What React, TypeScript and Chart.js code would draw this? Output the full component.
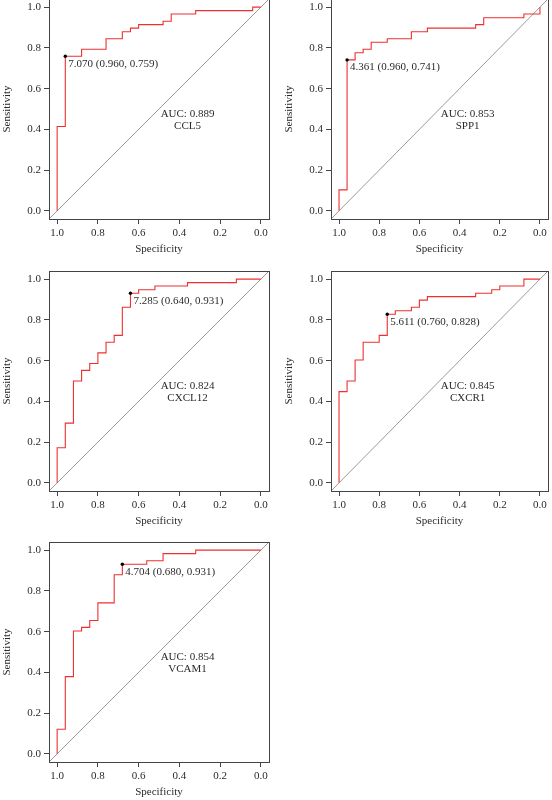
import React, { useEffect, useRef } from "react";
import { Chart, registerables } from "chart.js";

Chart.register(...registerables);

// ---------- data ----------
const tickValues = [0.0, 0.2, 0.4, 0.6, 0.8, 1.0];
const axisMin = -0.04;
const axisMax = 1.04;

// chance diagonal (sensitivity = 1 - specificity), spanning the whole plot region
const diagSpec = [1.04, -0.04];
const diagSens = [-0.04, 1.04];

const ccl5Spec = [1.0, 1.0, 0.96, 0.96, 0.88, 0.88, 0.76, 0.76, 0.68, 0.68, 0.64, 0.64, 0.6, 0.6, 0.48, 0.48, 0.44, 0.44, 0.32, 0.32, 0.04, 0.04, 0.0];
const ccl5Sens = [0.0, 0.414, 0.414, 0.759, 0.759, 0.793, 0.793, 0.845, 0.845, 0.879, 0.879, 0.897, 0.897, 0.914, 0.914, 0.931, 0.931, 0.966, 0.966, 0.983, 0.983, 1.0, 1.0];

const spp1Spec = [1.0, 1.0, 0.96, 0.96, 0.92, 0.92, 0.88, 0.88, 0.84, 0.84, 0.76, 0.76, 0.64, 0.64, 0.56, 0.56, 0.32, 0.32, 0.28, 0.28, 0.08, 0.08, 0.0, 0.0];
const spp1Sens = [0.0, 0.103, 0.103, 0.741, 0.741, 0.776, 0.776, 0.793, 0.793, 0.828, 0.828, 0.845, 0.845, 0.879, 0.879, 0.897, 0.897, 0.914, 0.914, 0.948, 0.948, 0.966, 0.966, 1.0];

const cxcl12Spec = [1.0, 1.0, 0.96, 0.96, 0.92, 0.92, 0.88, 0.88, 0.84, 0.84, 0.8, 0.8, 0.76, 0.76, 0.72, 0.72, 0.68, 0.68, 0.64, 0.64, 0.6, 0.6, 0.52, 0.52, 0.36, 0.36, 0.12, 0.12, 0.0];
const cxcl12Sens = [0.0, 0.172, 0.172, 0.293, 0.293, 0.5, 0.5, 0.552, 0.552, 0.586, 0.586, 0.638, 0.638, 0.69, 0.69, 0.724, 0.724, 0.862, 0.862, 0.931, 0.931, 0.948, 0.948, 0.966, 0.966, 0.983, 0.983, 1.0, 1.0];

const cxcr1Spec = [1.0, 1.0, 0.96, 0.96, 0.92, 0.92, 0.88, 0.88, 0.8, 0.8, 0.76, 0.76, 0.72, 0.72, 0.64, 0.64, 0.6, 0.6, 0.56, 0.56, 0.32, 0.32, 0.24, 0.24, 0.2, 0.2, 0.08, 0.08, 0.0];
const cxcr1Sens = [0.0, 0.448, 0.448, 0.5, 0.5, 0.603, 0.603, 0.69, 0.69, 0.724, 0.724, 0.828, 0.828, 0.845, 0.845, 0.862, 0.862, 0.897, 0.897, 0.914, 0.914, 0.931, 0.931, 0.948, 0.948, 0.966, 0.966, 1.0, 1.0];

const vcam1Spec = [1.0, 1.0, 0.96, 0.96, 0.92, 0.92, 0.88, 0.88, 0.84, 0.84, 0.8, 0.8, 0.72, 0.72, 0.68, 0.68, 0.56, 0.56, 0.48, 0.48, 0.32, 0.32, 0.0];
const vcam1Sens = [0.0, 0.121, 0.121, 0.379, 0.379, 0.603, 0.603, 0.621, 0.621, 0.655, 0.655, 0.741, 0.741, 0.879, 0.879, 0.931, 0.931, 0.948, 0.948, 0.983, 0.983, 1.0, 1.0];

const geneNames = ["CCL5", "SPP1", "CXCL12", "CXCR1", "VCAM1"];
const aucValues = ["0.889", "0.853", "0.824", "0.845", "0.854"];
const cutoffLabels = ["7.070", "4.361", "7.285", "5.611", "4.704"];
const cutoffSpec = [0.96, 0.96, 0.64, 0.76, 0.68];
const cutoffSens = [0.759, 0.741, 0.931, 0.828, 0.931];

const rocSpec = [ccl5Spec, spp1Spec, cxcl12Spec, cxcr1Spec, vcam1Spec];
const rocSens = [ccl5Sens, spp1Sens, cxcl12Sens, cxcr1Sens, vcam1Sens];

// ---------- styling / layout ----------
const FONT = '"Liberation Serif", "DejaVu Serif", serif';
const FONT_SIZE = 11;
const TEXT = "#2b2b2b";
const AXIS = "#444444";
const RED = "#ee3030";
const DIAG = "#9a9a9a";

const BOX = 220;
const TOP_PAD = 10;
const Y_AXIS_W = 49;
const X_AXIS_H = 40;
const PAGE_W = 552;

const boxLefts = [49, 331, 49, 331, 49];
const boxTops = [-1, -1, 271, 271, 542];

const AUC_TEXT_X = 0.36;
const AUC_TEXT_Y1 = 0.475;
const AUC_TEXT_Y2 = 0.415;

function RocPanel({ index }: { index: number }) {
  const ref = useRef<HTMLCanvasElement | null>(null);
  const canvasLeft = boxLefts[index] - Y_AXIS_W;
  const canvasTop = boxTops[index] - TOP_PAD;
  const width = Math.min(Y_AXIS_W + BOX + 7, PAGE_W - canvasLeft);
  const height = TOP_PAD + BOX + X_AXIS_H;
  const rightPad = width - Y_AXIS_W - BOX;

  useEffect(() => {
    if (!ref.current) return;
    const spec = rocSpec[index];
    const sens = rocSens[index];

    const panelPlugin = {
      id: "panelDecor" + index,
      afterDraw(chart: any) {
        const { ctx, chartArea: a } = chart;
        const xs = chart.scales.x;
        const ys = chart.scales.y;
        ctx.save();
        ctx.strokeStyle = AXIS;
        ctx.lineWidth = 1;
        ctx.strokeRect(a.left + 0.5, a.top + 0.5, a.right - a.left, a.bottom - a.top);

        ctx.fillStyle = TEXT;
        ctx.font = `${FONT_SIZE}px ${FONT}`;
        // threshold label
        const px = xs.getPixelForValue(cutoffSpec[index]);
        const py = ys.getPixelForValue(cutoffSens[index]);
        ctx.textAlign = "left";
        ctx.textBaseline = "middle";
        ctx.fillText(
          `${cutoffLabels[index]} (${cutoffSpec[index].toFixed(3)}, ${cutoffSens[index].toFixed(3)})`,
          px + 3,
          py + 7.5
        );
        // AUC + gene name
        ctx.textAlign = "center";
        const cx = xs.getPixelForValue(AUC_TEXT_X);
        ctx.fillText(`AUC: ${aucValues[index]}`, cx, ys.getPixelForValue(AUC_TEXT_Y1));
        ctx.fillText(geneNames[index], cx, ys.getPixelForValue(AUC_TEXT_Y2));
        ctx.restore();
      },
    };

    const tickFont = { family: FONT, size: FONT_SIZE };

    const chart = new Chart(ref.current, {
      type: "scatter",
      data: {
        datasets: [
          {
            data: [{ x: cutoffSpec[index], y: cutoffSens[index] }],
            pointRadius: 1.7,
            pointBackgroundColor: "#000000",
            pointBorderColor: "#000000",
            pointBorderWidth: 0,
            showLine: false,
          },
          {
            data: spec.map((s, k) => ({ x: s, y: sens[k] })),
            showLine: true,
            borderColor: RED,
            borderWidth: 1.1,
            pointRadius: 0,
            fill: false,
            tension: 0,
          },
          {
            data: diagSpec.map((s, k) => ({ x: s, y: diagSens[k] })),
            showLine: true,
            borderColor: DIAG,
            borderWidth: 1,
            pointRadius: 0,
            fill: false,
          },
        ],
      } as any,
      options: {
        responsive: false,
        animation: false,
        devicePixelRatio: 1,
        events: [],
        layout: { padding: { top: TOP_PAD, left: 0, right: rightPad, bottom: 0 } },
        plugins: { legend: { display: false }, tooltip: { enabled: false } },
        scales: {
          x: {
            type: "linear",
            reverse: true,
            min: axisMin,
            max: axisMax,
            afterBuildTicks: (s: any) => {
              s.ticks = tickValues.map((v) => ({ value: v }));
            },
            afterFit: (s: any) => {
              s.height = X_AXIS_H;
            },
            ticks: {
              callback: (v: any) => Number(v).toFixed(1),
              padding: 3,
              color: TEXT,
              font: tickFont,
              maxRotation: 0,
              autoSkip: false,
            },
            grid: { drawOnChartArea: false, drawTicks: true, tickLength: 5, tickColor: AXIS, tickWidth: 1 },
            border: { display: false },
            title: { display: true, text: "Specificity", color: TEXT, font: tickFont, padding: { top: 0, bottom: 3.5 } },
          },
          y: {
            type: "linear",
            min: axisMin,
            max: axisMax,
            afterBuildTicks: (s: any) => {
              s.ticks = tickValues.map((v) => ({ value: v }));
            },
            afterFit: (s: any) => {
              s.width = Y_AXIS_W;
            },
            ticks: {
              callback: (v: any) => Number(v).toFixed(1),
              padding: 3,
              color: TEXT,
              font: tickFont,
              autoSkip: false,
            },
            grid: { drawOnChartArea: false, drawTicks: true, tickLength: 5, tickColor: AXIS, tickWidth: 1 },
            border: { display: false },
            title: { display: true, text: "Sensitivity", color: TEXT, font: tickFont, padding: { top: 0.5, bottom: 0 } },
          },
        },
      } as any,
      plugins: [panelPlugin],
    });
    return () => chart.destroy();
  }, [index]);

  return (
    <canvas
      ref={ref}
      width={width}
      height={height}
      style={{ position: "absolute", left: canvasLeft, top: canvasTop, width, height }}
    />
  );
}

export default function App() {
  return (
    <div
      style={{
        position: "absolute",
        left: 0,
        top: 0,
        width: 552,
        height: 800,
        overflow: "hidden",
        background: "#ffffff",
      }}
    >
      {geneNames.map((g, i) => (
        <RocPanel key={g} index={i} />
      ))}
    </div>
  );
}
